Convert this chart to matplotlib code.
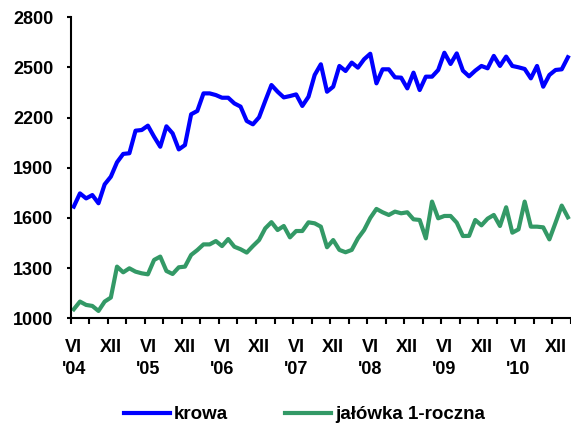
import numpy as np
import matplotlib
matplotlib.use("Agg")
import matplotlib.pyplot as plt

plt.rcParams['font.family'] = ['Liberation Sans', 'DejaVu Sans']
plt.rcParams['font.weight'] = 'bold'

# monthly prices, VI 2004 - II 2011
krowa = [1668, 1747, 1717, 1737, 1688, 1801, 1847, 1933, 1983, 1987,
         2122, 2126, 2152, 2086, 2026, 2148, 2106, 2010, 2036, 2220,
         2240, 2345, 2345, 2335, 2319, 2319, 2285, 2266, 2180, 2160,
         2202, 2300, 2395, 2355, 2321, 2329, 2339, 2270, 2325, 2455,
         2519, 2355, 2385, 2509, 2479, 2529, 2499, 2549, 2582, 2405,
         2489, 2489, 2441, 2439, 2375, 2469, 2365, 2445, 2445, 2485,
         2588, 2521, 2584, 2481, 2447, 2481, 2509, 2495, 2569, 2509,
         2565, 2509, 2501, 2491, 2435, 2509, 2385, 2455, 2485, 2489,
         2561]
jalowka = [1054, 1100, 1080, 1074, 1044, 1100, 1124, 1309, 1275, 1299,
           1279, 1269, 1263, 1349, 1369, 1283, 1265, 1305, 1309, 1379,
           1408, 1442, 1442, 1462, 1432, 1474, 1428, 1413, 1393, 1432,
           1468, 1538, 1575, 1528, 1552, 1484, 1522, 1522, 1574, 1568,
           1548, 1425, 1468, 1409, 1395, 1409, 1478, 1528, 1600, 1654,
           1634, 1618, 1638, 1628, 1634, 1592, 1588, 1478, 1698, 1598,
           1612, 1612, 1572, 1492, 1493, 1588, 1556, 1596, 1618, 1552,
           1664, 1512, 1532, 1698, 1548, 1548, 1544, 1472, 1572, 1674,
           1604]

labels = ["VI\n'04", "XII", "VI\n'05", "XII", "VI\n'06", "XII", "VI\n'07",
          "XII", "VI\n'08", "XII", "VI\n'09", "XII", "VI\n'10", "XII"]

x = np.arange(len(krowa))

fig = plt.figure(figsize=(5.71, 4.26), dpi=100)
ax = fig.add_axes([0.1238, 0.2528, 0.8762, 0.7066])

ax.plot(x, krowa, color='#0000FF', lw=3, label='krowa')
ax.plot(x, jalowka, color='#339966', lw=3, label='jałówka 1-roczna')

ax.set_xlim(-0.5, len(krowa) - 0.5)
ax.set_ylim(1000, 2800)
ax.set_yticks(range(1000, 2801, 300))

ax.set_xticks(np.arange(0, 6 * len(labels), 6))
ax.set_xticklabels(labels, linespacing=1.35, va='top')
ax.set_xticks(np.arange(-0.5, len(krowa), 3), minor=True)
ax.tick_params(axis='x', which='major', length=0, pad=15, labelsize=13)
ax.tick_params(axis='x', which='minor', length=4, width=1.5, direction='out')
ax.tick_params(axis='y', length=3, width=1.5, pad=9.5, labelsize=13)

for s in ['top', 'right']:
    ax.spines[s].set_visible(False)
for s in ['left', 'bottom']:
    ax.spines[s].set_linewidth(1.5)

fig.legend(loc='lower center', bbox_to_anchor=(0.533, -0.033), ncol=2,
           frameon=False, fontsize=13.5, handlelength=2.5, columnspacing=3.0,
           handletextpad=0.2)

fig.savefig('out.png', dpi=100)
